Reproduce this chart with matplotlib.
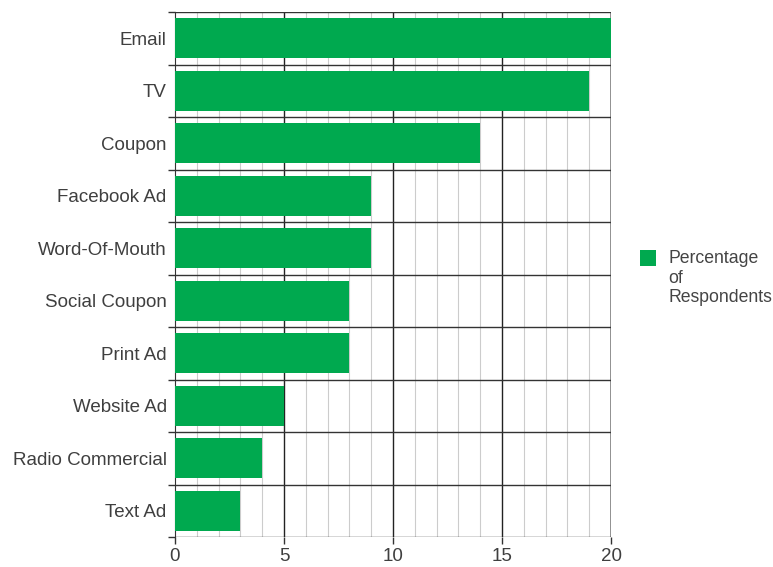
import matplotlib
matplotlib.use("Agg")
import matplotlib.pyplot as plt
import numpy as np
from matplotlib.patches import Rectangle

categories = ["Email", "TV", "Coupon", "Facebook Ad", "Word-Of-Mouth",
              "Social Coupon", "Print Ad", "Website Ad", "Radio Commercial", "Text Ad"]
values = [20, 19, 14, 9, 9, 8, 8, 5, 4, 3]
x_ticks = [0, 5, 10, 15, 20]
legend_label = "Percentage\nof\nRespondents"
green = "#00A94F"

plt.rcParams['font.family'] = ['Liberation Sans', 'DejaVu Sans']

W, H = 773, 567
fig = plt.figure(figsize=(W/100, H/100), dpi=100)
ax = fig.add_axes([175/W, 1-537/H, (611-175)/W, (537-12)/H])

n = len(categories)
ypos = np.arange(n)
ax.barh(ypos, values, height=0.77, color=green, zorder=3)
ax.set_ylim(n-0.5, -0.5)
ax.set_xlim(0, 20)

# minor vertical grid
for x in range(1, 20):
    if x % 5 != 0:
        ax.axvline(x, color="#cccccc", lw=0.8, zorder=1)
for x in [5, 10, 15]:
    ax.axvline(x, color="#222222", lw=1.0, zorder=2)
ax.axvline(20, color="#888888", lw=1.3, zorder=2)
# horizontal separators
for b in np.arange(-0.5, n, 1.0):
    ax.axhline(b, color="#333333", lw=1.0, zorder=2)

ax.set_yticks(ypos)
ax.set_yticklabels(categories, fontsize=13.5, color="#3f3f3f")
ax.set_yticks(np.arange(-0.5, n, 1.0), minor=True)
ax.tick_params(axis='y', which='major', length=0, pad=6)
ax.tick_params(axis='y', which='minor', length=5, width=1, color="#333333")
ax.set_xticks(x_ticks)
ax.set_xticklabels([str(v) for v in x_ticks], fontsize=13.5, color="#3f3f3f")
ax.tick_params(axis='x', length=5, width=1, color="#333333", pad=3)

for s in ["top", "bottom", "right"]:
    ax.spines[s].set_visible(False)
ax.spines["left"].set_color("#333333")

# legend (drawn manually so the swatch aligns with the first line)
fig.patches.append(Rectangle((640/W, 1-266/H), 16/W, 16/H, transform=fig.transFigure,
                             facecolor=green, edgecolor="none"))
fig.text(668/W, 1-250/H, legend_label, fontsize=12.7, color="#444444",
         va="top", ha="left", linespacing=1.2)

fig.savefig("out.png", dpi=100)
